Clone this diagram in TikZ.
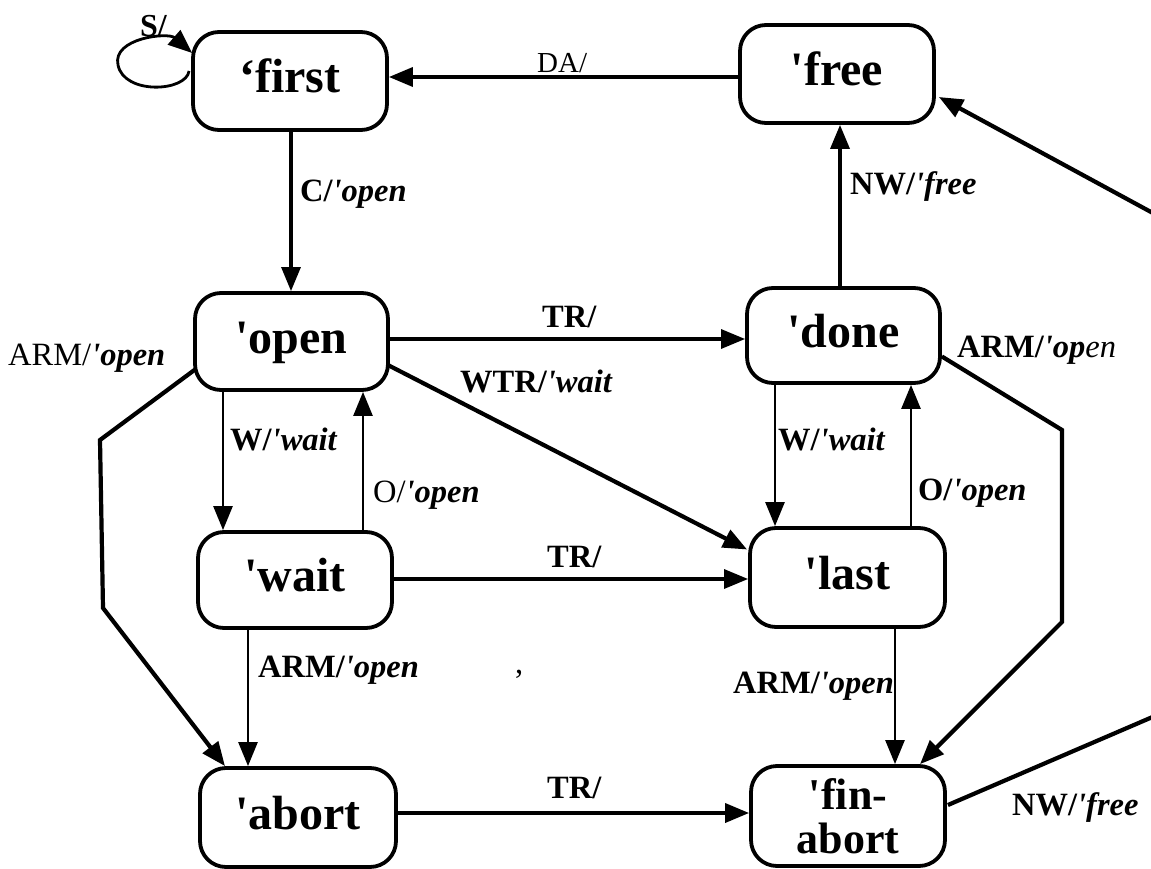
\documentclass[tikz,border=0pt]{standalone}
\usepackage{fontspec}
\setmainfont{Liberation Serif}
\usetikzlibrary{arrows.meta}
\newcommand{\qs}{\textquotesingle}
\begin{document}
\begin{tikzpicture}[x=1pt,y=-1pt,
  state/.style={draw, line width=3.8pt, rounded corners=26pt, minimum width=194pt,
    minimum height=98pt, inner sep=0pt, font=\fontsize{48}{48}\selectfont\bfseries},
  onel/.style={text height=33pt, text depth=10pt},
  edge/.style={line width=3.1pt, -{Triangle[length=24pt,width=19pt]}},
  thickedge/.style={edge, line width=4.2pt},
  thinedge/.style={edge, line width=2.6pt},
  lab/.style={anchor=base west, inner sep=0pt, font=\fontsize{32.5}{32.5}\selectfont},
]
\useasboundingbox (0,0) rectangle (1151,869);
\clip (0,0) rectangle (1151,869);
\fill[white] (0,0) rectangle (1151,869);

% states
\node[state,onel] (first) at (290,81) {`first};
\node[state,onel] (free) at (837,74) {\qs free};
\node[state,onel,minimum width=193pt,minimum height=97pt] (open) at (291.5,341.5) {\qs open};
\node[state,onel,minimum width=193pt,minimum height=95pt] (done) at (843.5,335.5) {\qs done};
\node[state,onel,minimum height=96pt] (wait) at (295,580) {\qs wait};
\node[state,onel,minimum width=195pt,minimum height=99pt] (last) at (847.5,577.5) {\qs last};
\node[state,onel,minimum width=196pt,minimum height=99pt] (abort) at (298,817.5) {\qs abort};
\node[state,minimum height=100pt,align=center,font=\fontsize{44}{44}\selectfont\bfseries] (fin) at (848,816) {\qs fin-\\abort};

% helper coordinates
\coordinate (xC) at (291,0);
\coordinate (xNW) at (840,0);
\coordinate (xW1) at (223,0);
\coordinate (xO1) at (363,0);
\coordinate (xA1) at (248,0);
\coordinate (xW2) at (775,0);
\coordinate (xO2) at (911,0);
\coordinate (xA2) at (895,0);
\coordinate (yDA) at (0,77);
\coordinate (yTR1) at (0,339);
\coordinate (yTR2) at (0,579);
\coordinate (yTR3) at (0,813);
\coordinate (lb1) at (100,440);
\coordinate (lb2) at (103,608);
\coordinate (rb1) at (1062,430);
\coordinate (rb2) at (1062,622);
\coordinate (nwturn) at (1671,494);
\coordinate (loopL) at (118,65);

% self loop S/
\draw[edge,line width=2.8pt] ([xshift=-2pt,yshift=10pt]first.west) .. controls (186,92) and (124,95) .. (loopL)
   .. controls (112,38) and (168,32) .. ([xshift=1pt,yshift=28pt]first.west);
\node[lab,font=\fontsize{32}{32}\selectfont\bfseries] (lS) at (140,37) {S/};

% DA/
\draw[edge,line width=3.6pt] (yDA -| free.west) -- (yDA -| first.east);
\node[lab,font=\fontsize{29}{29}\selectfont] (lDA) at (537,73) {DA/};

% C/'open
\draw[edge] (xC |- first.south) -- (xC |- open.north);
\node[lab] (lC) at (300,202) {\textbf{C/\textit{\qs open}}};

% NW/'free (done -> free)
\draw[edge,line width=3.4pt] (xNW |- done.north) -- (xNW |- free.south);
\node[lab] (lNW1) at (850,195) {\textbf{NW/\textit{\qs free}}};

% TR/ open -> done
\draw[edge] (yTR1 -| open.east) -- (yTR1 -| done.west);
\node[lab] (lTR1) at (542,327) {\textbf{TR/}};

% WTR/'wait open -> last
\draw[thickedge] ([xshift=-3pt,yshift=-23pt]open.east) -- ([xshift=-1pt,yshift=28pt]last.west);
\node[lab] (lWTR) at (460,392) {\textbf{WTR/\textit{\qs wait}}};

% ARM/'open open -> abort (left path)
\draw[thickedge] ([xshift=2pt,yshift=-28pt]open.west) -- (lb1) -- (lb2) -- ([xshift=-73pt]abort.north);
\node[lab] (lARM1) at (8,365) {ARM/\textbf{\textit{\qs open}}};

% W/'wait open -> wait
\draw[thinedge] (xW1 |- open.south) -- (xW1 |- wait.north);
\node[lab] (lW1) at (230,450) {\textbf{W/\textit{\qs wait}}};

% O/'open wait -> open
\draw[thinedge] (xO1 |- wait.north) -- (xO1 |- open.south);
\node[lab] (lO1) at (373,502) {O/\textbf{\textit{\qs open}}};

% TR/ wait -> last
\draw[edge] (yTR2 -| wait.east) -- (yTR2 -| last.west);
\node[lab] (lTR2) at (547,567) {\textbf{TR/}};

% W/'wait done -> last
\draw[thinedge] (xW2 |- done.south) -- (xW2 |- last.north);
\node[lab] (lW2) at (778,450) {\textbf{W/\textit{\qs wait}}};

% O/'open last -> done
\draw[thinedge] (xO2 |- last.north) -- (xO2 |- done.south);
\node[lab] (lO2) at (918,500) {\textbf{O/\textit{\qs open}}};

% ARM/'open done -> fin (right path)
\draw[thickedge] ([yshift=-21pt]done.east) -- (rb1) -- (rb2) -- ([xshift=72pt]fin.north);
\node[lab] (lARM2) at (957,357) {\textbf{ARM/\textit{\qs op}}\textit{en}};

% ARM/'open wait -> abort
\draw[thinedge] (xA1 |- wait.south) -- (xA1 |- abort.north);
\node[lab] (lARM3) at (258,677) {\textbf{ARM/\textit{\qs open}}};

% ARM/'open last -> fin
\draw[thinedge] (xA2 |- last.south) -- (xA2 |- fin.north);
\node[lab] (lARM4) at (733,693) {\textbf{ARM/\textit{\qs open}}};

% TR/ abort -> fin
\draw[edge,line width=3.6pt] (yTR3 -| abort.east) -- (yTR3 -| fin.west);
\node[lab] (lTR3) at (547,798) {\textbf{TR/}};

% NW/'free fin -> free (runs off the right edge)
\draw[thickedge] ([xshift=1pt,yshift=11pt]fin.east) -- (nwturn) -- ([xshift=3pt,yshift=-23pt]free.east);
\node[lab] (lNW2) at (1012,815) {\textbf{NW/\textit{\qs free}}};

% stray comma
\node[lab] (comma) at (515,673) {,};
\end{tikzpicture}
\end{document}
